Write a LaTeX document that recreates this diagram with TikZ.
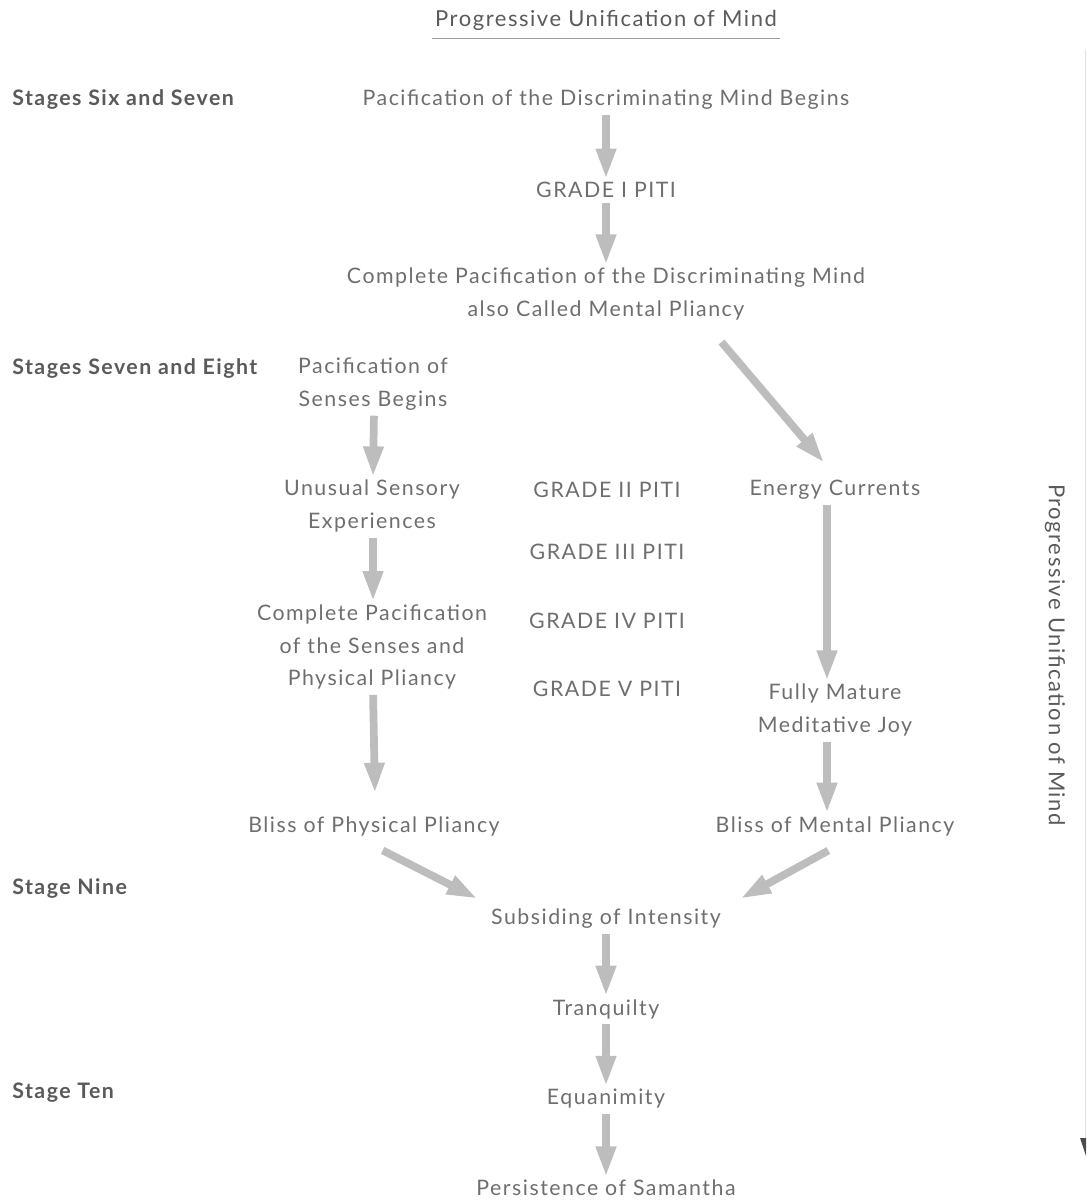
\documentclass[tikz,border=0pt]{standalone}
\usepackage{fontspec}
\setmainfont{Lato}[LetterSpace=7]
\usetikzlibrary{arrows.meta,calc}
\definecolor{txt}{HTML}{6E6E6E}
\definecolor{stg}{HTML}{5A5A5A}
\definecolor{arr}{HTML}{BDBDBD}
\tikzset{
  body/.style={text=txt,font=\fontsize{16}{24.5}\selectfont,inner sep=0pt,align=center},
  stagelbl/.style={text=stg,font=\fontsize{16}{24.5}\selectfont\bfseries,inner sep=0pt,anchor=west},
  bigarrow/.style={draw=arr,line width=5.8pt,-{Triangle[width=14pt,length=23pt]},shorten <=4pt,shorten >=2pt},
}
\begin{document}
\begin{tikzpicture}[x=0.75pt,y=-0.75pt]
\useasboundingbox (0,0) rectangle (1086,1201);
% title
\node[text=stg,font=\fontsize{16.5}{20}\selectfont,inner sep=0pt] (title) at (606,20) {Progressive Unification of Mind};
\draw[stg!60,line width=0.6pt] (432,38) -- (780,38);
% stage labels
\node[stagelbl] (s67) at (12,100) {Stages Six and Seven};
\node[stagelbl] (s78) at (12,368) {Stages Seven and Eight};
\node[stagelbl] (s9) at (12,889) {Stage Nine};
\node[stagelbl] (s10) at (12,1093) {Stage Ten};
% center column
\node[body] (pdm) at (606,100) {Pacification of the Discriminating Mind Begins};
\node[body] (g1) at (606,190) {GRADE I PITI};
\node[body] (cpm) at (606,294) {Complete Pacification of the Discriminating Mind\\also Called Mental Pliancy};
% left column
\node[body] (ps) at (373,384) {Pacification of\\Senses Begins};
\node[body] (use) at (372,506) {Unusual Sensory\\Experiences};
\node[body] (cps) at (372,647) {Complete Pacification\\of the Senses and\\Physical Pliancy};
\node[body] (bpp) at (374,826) {Bliss of Physical Pliancy};
% grades
\node[body] (g2) at (607,490) {GRADE II PITI};
\node[body] (g3) at (607,552) {GRADE III PITI};
\node[body] (g4) at (607,621) {GRADE IV PITI};
\node[body] (g5) at (607,689) {GRADE V PITI};
% right column
\node[body] (ec) at (835,490) {Energy Currents};
\node[body] (fmj) at (835,710) {Fully Mature\\Meditative Joy};
\node[body] (bmp) at (835,826) {Bliss of Mental Pliancy};
% bottom
\node[body] (soi) at (606,919) {Subsiding of Intensity};
\node[body] (tq) at (606,1009) {Tranquilty};
\node[body] (eq) at (606,1099) {Equanimity};
\node[body] (pos) at (606,1188) {Persistence of Samantha};
% side label
\node[text=stg,font=\fontsize{16.5}{20}\selectfont,inner sep=0pt,rotate=-90] (side) at (1055,655) {Progressive Unification of Mind};
\draw[black!12,line width=0.6pt] (1085.5,50) -- (1085.5,1140);
\fill[black!70] (1080,1138) -- (1086,1138) -- (1086,1156) -- cycle;
% arrows
\draw[bigarrow] (pdm.south) -- (g1.north);
\draw[bigarrow] (g1.south) -- (cpm.north);
\draw[bigarrow] ($(cpm.center)+(112,44)$) -- ($(ec.center)+(-9,-25)$);
\draw[bigarrow] ([xshift=0.75pt]ps.south) -- ([xshift=0.75pt]use.north);
\draw[bigarrow] ([xshift=0.75pt]use.south) -- ([xshift=0.75pt]cps.north);
\draw[bigarrow] ([xshift=0.75pt]cps.south) -- ([xshift=0.75pt,yshift=15pt]bpp.north);
\draw[bigarrow] ([xshift=-6pt]ec.south) -- ([xshift=-6pt]fmj.north);
\draw[bigarrow] ([xshift=-6pt]fmj.south) -- ([xshift=-6pt]bmp.north);
\draw[bigarrow] ($(bpp.center)+(4,22)$) -- ($(soi.center)+(-126,-19)$);
\draw[bigarrow] ($(bmp.center)+(-2,22)$) -- ($(soi.center)+(132,-19)$);
\draw[bigarrow] (soi.south) -- (tq.north);
\draw[bigarrow] (tq.south) -- (eq.north);
\draw[bigarrow] (eq.south) -- (pos.north);
\end{tikzpicture}
\end{document}
